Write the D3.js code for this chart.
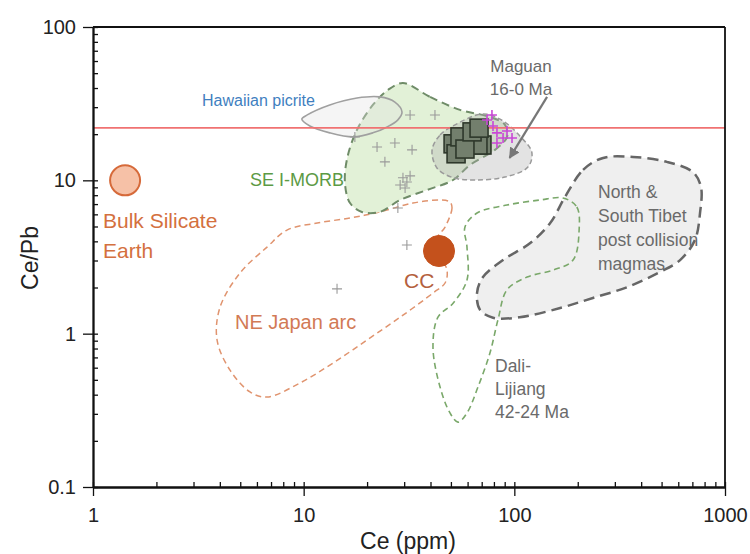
<!DOCTYPE html>
<html><head><meta charset="utf-8">
<script src="https://cdn.jsdelivr.net/npm/d3@7"></script>
<style>body{margin:0;background:#fff}svg{display:block}text{font-family:"Liberation Sans",Arial,sans-serif}</style>
</head><body>
<svg id="chart" width="750" height="554"></svg>
<script>
// ---------- data (Ce ppm, Ce/Pb) ----------
const xMajorTicks = [1, 10, 100, 1000];
const xTickLabels = ["1", "10", "100", "1000"];
const yMajorTicks = [0.1, 1, 10, 100];
const yTickLabels = ["0.1", "1", "10", "100"];
const xTitle = "Ce (ppm)";
const yTitle = "Ce/Pb";
const mantleCePb = 22;

const tibetField = [[174,7.79],[212,11.7],[264,14.0],[366,14.2],[530,13.2],[705,11.3],[769,9.05],[761,6.12],[720,4.08],[612,3.02],[491,2.52],[343,2.01],[236,1.71],[165,1.47],[106,1.28],[79.2,1.27],[68.7,1.43],[66.5,1.84],[71.0,2.34],[88.4,3.02],[119,3.90],[148,5.27]];
const daliField = [[170,7.67],[198,6.70],[203,4.74],[190,3.02],[153,2.60],[115,2.34],[92.3,1.93],[83.6,1.23],[76.6,0.748],[67.2,0.449],[59.6,0.304],[54.0,0.265],[49.5,0.304],[44.4,0.449],[41.1,0.818],[43.4,1.28],[51.2,1.58],[59.6,2.24],[59.6,3.67],[58.3,4.96],[66.5,6.12],[92.3,6.90],[132,7.44]];
const japanField = [[49.5,7.22],[50.6,6.60],[46.9,4.96],[43.0,4.21],[43.4,3.41],[47.9,2.60],[46.9,2.14],[41.1,1.84],[28.7,1.28],[20.0,0.91],[13.8,0.644],[9.61,0.477],[6.70,0.386],[5.56,0.417],[4.47,0.579],[3.88,0.91],[4.01,1.49],[4.99,2.49],[6.70,3.67],[8.33,4.74],[11.6,5.27],[16.6,5.68],[23.0,6.22],[33.0,7.11],[44.4,7.44]];
const morbField = [[29.6,43.1],[39.8,35.0],[55.2,28.8],[76.6,25.9],[90.3,23.0],[92.3,19.2],[80.9,15.8],[61.6,12.6],[51.2,10.05],[38.5,8.65],[28.7,7.44],[23.0,6.22],[18.9,6.22],[16.6,7.11],[15.7,9.61],[16.1,13.98],[17.9,21.3],[21.3,31.0],[25.1,38.8]];
const hawaiiField = [[10.4,26.7],[13.3,31.0],[17.9,34.4],[23.0,35.0],[27.1,32.4],[29.3,27.9],[28.0,24.8],[24.9,22.3],[21.3,20.4],[17.2,19.2],[13.3,20.4],[10.7,22.6],[9.8,25.1]];
const maguanField = [[40.7,15.8],[44.4,19.75],[52.3,23.0],[71.0,27.1],[88.4,24.4],[106,19.5],[121,15.3],[116,12.2],[90.3,10.5],[65.1,10.05],[51.2,10.4],[43.0,12.0]];

const morbSamplesCe   = [32.0,42.0,22.3,27.1,32.7,24.3,17.5,29.6,30.9,32.0,28.7,30.3,28.0,30.9,14.4];
const morbSamplesCePb = [26.7,26.7,16.5,17.5,15.8,13.2,19.2,10.4,9.75,10.7,9.32,8.91,6.60,3.79,1.96];
const maguanCe   = [70.2,67.2,51.2,52.9,55.2,58.3,63.0,68.0];
const maguanCePb = [17.0,17.0,17.3,14.9,19.2,16.0,20.7,21.9];
const pinkCe   = [78.3,74.2,79.2,82.7,88.4,97.5,82.7,92.3];
const pinkCePb = [26.7,24.75,22.6,20.4,18.9,18.9,17.5,21.0];
const bse = [1.42, 10.0];
const cc  = [43.9, 3.46];
const arrowFrom = [143, 35];
const arrowTo   = [95, 14];

// ---------- layout ----------
const svg = d3.select("#chart");
const x = d3.scaleLog().domain([1, 1000]).range([93, 725]);
const y = d3.scaleLog().domain([0.1, 100]).range([487, 27]);

const line = d3.line().x(d => x(d[0])).y(d => y(d[1])).curve(d3.curveCatmullRomClosed.alpha(0.5));

function field(data, fill, stroke, width, dash) {
  svg.append("path").attr("d", line(data)).attr("fill", fill)
    .attr("stroke", stroke).attr("stroke-width", width)
    .attr("stroke-dasharray", dash).attr("stroke-linejoin", "round");
}

field(tibetField, "#efefef", "#666", 2.5, "11,6");
field(daliField, "none", "#7aa86a", 1.6, "6,4");
field(japanField, "none", "#e0946f", 1.5, "6,4");
field(morbField, "#e2f1d7", "#6f8c68", 2, "8,5");
field(hawaiiField, "rgba(225,225,225,0.35)", "#a0a0a0", 1.6, null);
field(maguanField, "rgba(175,175,175,0.35)", "#9a9a9a", 1.5, "5,3");

// Ce/Pb reference line
svg.append("line").attr("x1", x(1)).attr("x2", x(1000))
  .attr("y1", y(mantleCePb)).attr("y2", y(mantleCePb))
  .attr("stroke", "#f07272").attr("stroke-width", 1.6);

// gray crosses
const crossPath = s => `M${-s},0H${s}M0,${-s}V${s}`;
svg.append("g").selectAll("path").data(morbSamplesCe).join("path")
  .attr("d", crossPath(5))
  .attr("transform", (d, i) => `translate(${x(d)},${y(morbSamplesCePb[i])})`)
  .attr("stroke", "#9a9a9a").attr("stroke-width", 1.1).attr("fill", "none");

// squares
svg.append("g").selectAll("rect").data(maguanCe).join("rect")
  .attr("x", d => x(d) - 9).attr("y", (d, i) => y(maguanCePb[i]) - 9)
  .attr("width", 18).attr("height", 18)
  .attr("fill", "#737f6d").attr("stroke", "#2e382b").attr("stroke-width", 1.6);

// magenta crosses
svg.append("g").selectAll("path").data(pinkCe).join("path")
  .attr("d", crossPath(5))
  .attr("transform", (d, i) => `translate(${x(d)},${y(pinkCePb[i])})`)
  .attr("stroke", "#c948d6").attr("stroke-width", 1.6).attr("fill", "none");

// circles
svg.append("circle").attr("cx", x(bse[0])).attr("cy", y(bse[1])).attr("r", 15)
  .attr("fill", "#f6c1a7").attr("stroke", "#d66a3a").attr("stroke-width", 2);
svg.append("circle").attr("cx", x(cc[0])).attr("cy", y(cc[1])).attr("r", 15.5)
  .attr("fill", "#c4511c").attr("stroke", "#c4511c").attr("stroke-width", 1);

// arrow
svg.append("defs").append("marker").attr("id", "ah").attr("viewBox", "0 0 10 10")
  .attr("refX", 9).attr("refY", 5).attr("markerWidth", 5).attr("markerHeight", 5)
  .attr("orient", "auto").attr("markerUnits", "strokeWidth")
  .append("path").attr("d", "M0,0L10,5L0,10z").attr("fill", "#777");
svg.append("line").attr("x1", x(arrowFrom[0])).attr("y1", y(arrowFrom[1]))
  .attr("x2", x(arrowTo[0])).attr("y2", y(arrowTo[1]))
  .attr("stroke", "#777").attr("stroke-width", 2.2).attr("marker-end", "url(#ah)");

// axes
const gx = svg.append("g").attr("transform", `translate(0,${y(0.1)})`);
gx.call(d3.axisBottom(x).tickValues(xMajorTicks).tickFormat((d, i) => xTickLabels[i])
  .tickSizeInner(9).tickSizeOuter(0).tickPadding(12));
const gx2 = svg.append("g").attr("transform", `translate(0,${y(0.1)})`);
gx2.call(d3.axisBottom(x).tickValues(x.ticks()).tickFormat("").tickSizeInner(-5).tickSizeOuter(0));

const gy = svg.append("g").attr("transform", `translate(${x(1)},0)`);
gy.call(d3.axisLeft(y).tickValues(yMajorTicks).tickFormat((d, i) => yTickLabels[i])
  .tickSizeInner(10).tickSizeOuter(0).tickPadding(7));
const gy2 = svg.append("g").attr("transform", `translate(${x(1)},0)`);
gy2.call(d3.axisLeft(y).tickValues(y.ticks()).tickFormat("").tickSizeInner(-5).tickSizeOuter(0));

[gx, gx2, gy, gy2].forEach(g => {
  g.selectAll("path.domain").attr("stroke", "#111").attr("stroke-width", 1.8);
  g.selectAll(".tick line").attr("stroke", "#111").attr("stroke-width", 1.3);
  g.selectAll("text").attr("font-size", 20).attr("fill", "#222")
    .attr("font-family", "Liberation Sans, Arial, sans-serif");
});
// frame top/right
svg.append("line").attr("x1", x(1)).attr("x2", x(1000)).attr("y1", y(100)).attr("y2", y(100))
  .attr("stroke", "#111").attr("stroke-width", 1.8);
svg.append("line").attr("x1", x(1000)).attr("x2", x(1000)).attr("y1", y(100)).attr("y2", y(0.1))
  .attr("stroke", "#111").attr("stroke-width", 1.8);

// titles
svg.append("text").attr("x", 408).attr("y", 549).attr("text-anchor", "middle")
  .attr("font-size", 23).attr("fill", "#222").text(xTitle);
svg.append("text").attr("transform", "translate(38,258) rotate(-90)").attr("text-anchor", "middle")
  .attr("font-size", 23).attr("fill", "#222").text(yTitle);

// annotations
function label(lines, px, py, size, color, anchor, lh) {
  const t = svg.append("text").attr("font-size", size).attr("fill", color)
    .attr("text-anchor", anchor || "start");
  lines.forEach((s, i) => t.append("tspan").attr("x", px).attr("y", py + i * (lh || 0)).text(s));
}
label(["Hawaiian picrite"], 202, 106, 16, "#3f7fc0");
label(["SE I-MORB"], 250, 186, 18, "#5c9a45");
label(["Maguan", "16-0 Ma"], 521, 72, 17, "#6a6a6a", "middle", 23);
label(["North &", "South Tibet", "post collision", "magmas"], 598, 198, 17.5, "#6a6a6a", "start", 24);
label(["Dali-", "Lijiang", "42-24 Ma"], 495, 372, 17.5, "#6a6a6a", "start", 23);
label(["Bulk Silicate", "Earth"], 103, 228, 21, "#d4703e", "start", 30);
label(["CC"], 404, 288, 21, "#b4603d");
label(["NE Japan arc"], 235, 329, 20, "#d27a55");
</script>
</body></html>
